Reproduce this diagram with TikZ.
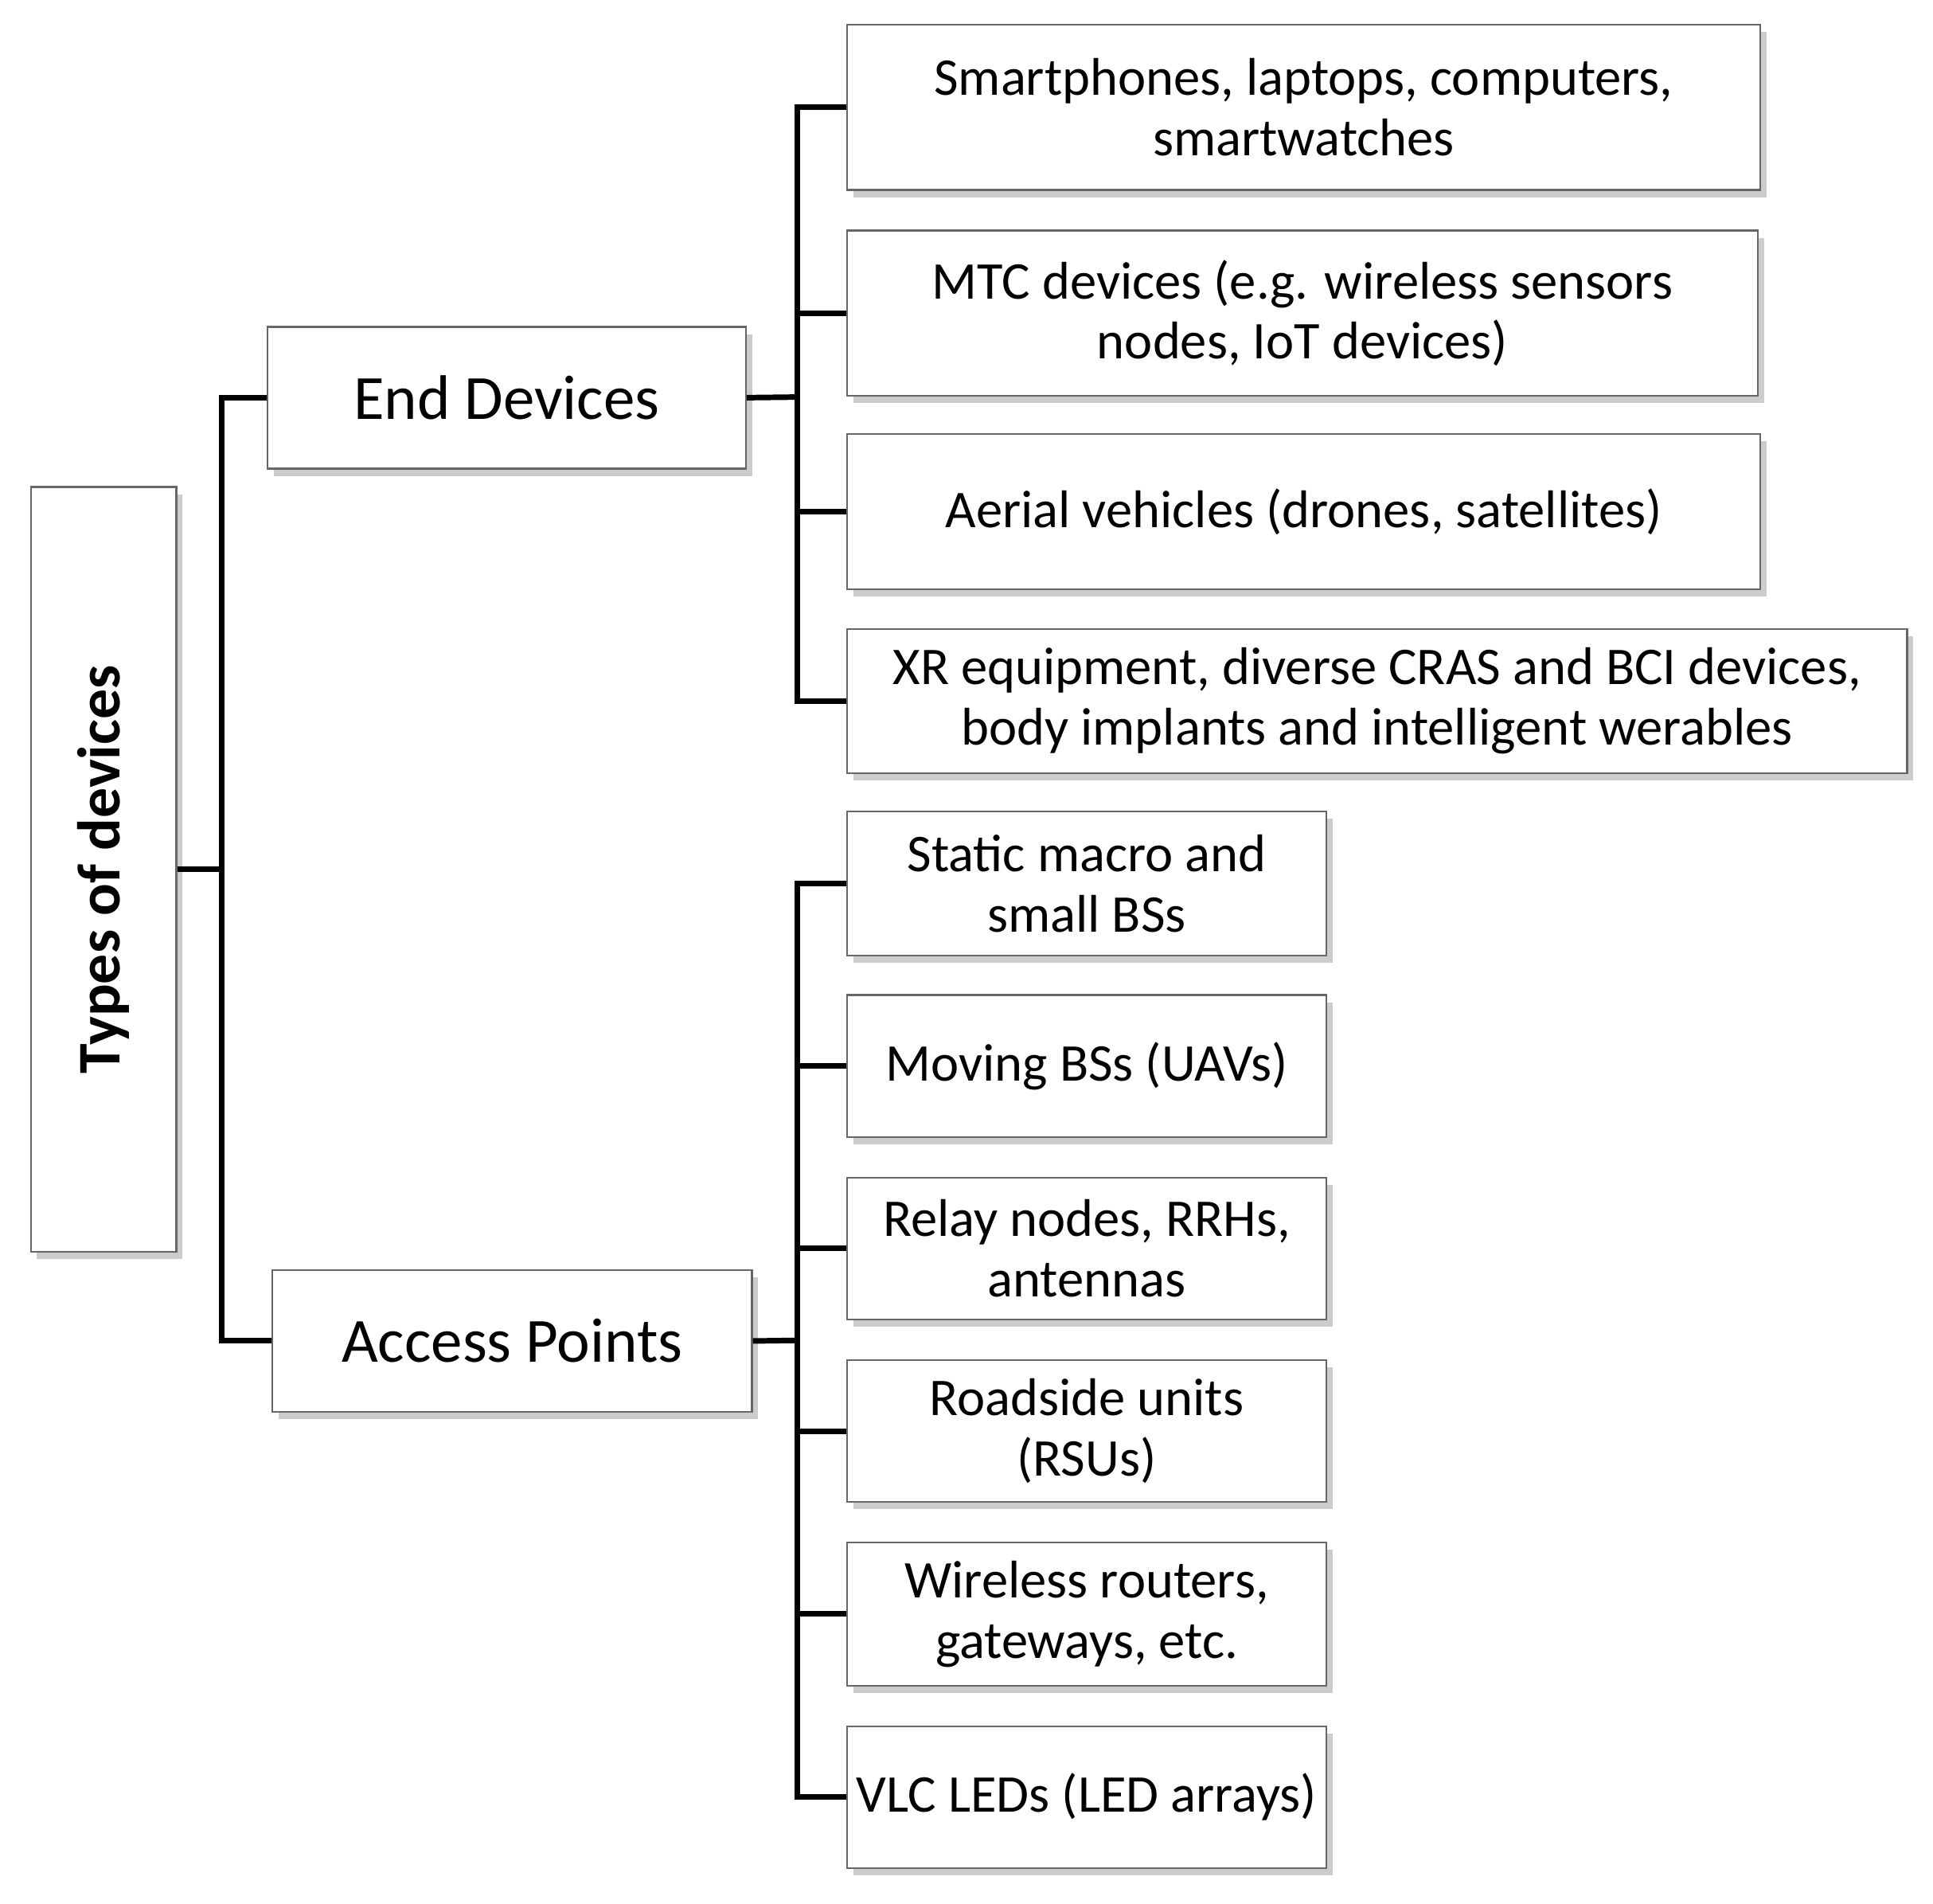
\documentclass[tikz,border=0pt]{standalone}
\usepackage{fontspec}
\setmainfont{Carlito}
\usetikzlibrary{shadows}
\begin{document}
\begin{tikzpicture}[x=1pt,y=-1pt,
 box/.style={draw=black!60,line width=1.5pt,fill=white,align=center,inner sep=0pt,font=\fontsize{43}{49}\selectfont,
   drop shadow={shadow xshift=5pt,shadow yshift=-6pt,fill=black!25,opacity=0.8}},
 con/.style={line width=4.5pt}]
\useasboundingbox (0,0) rectangle (1568,1544);
\newcommand\bx[6]{\node[box,minimum width=#4-#2,minimum height=#5-#3] (#1) at ({(#2+#4)/2},{(#3+#5)/2}) {#6};}
\node[box,minimum width=118,minimum height=620] (t) at (84,705) {};
\node[rotate=90,font=\bfseries\fontsize{49}{52}\selectfont] (tt) at (t.center) {Types of devices};
\bx{e}{217}{265}{605}{380}{\fontsize{51}{55}\selectfont End Devices}
\bx{a}{221}{1030}{610}{1145}{\fontsize{51}{55}\selectfont Access Points}
\bx{r1}{687}{20}{1428}{154}{Smartphones, laptops, computers,\\smartwatches}
\bx{r2}{687}{187}{1426}{321}{MTC devices (e.g. wireless sensors\\nodes, IoT devices)}
\bx{r3}{687}{352}{1428}{478}{Aerial vehicles (drones, satellites)}
\bx{r4}{687}{510}{1547}{627}{XR equipment, diverse CRAS and BCI devices,\\body implants and intelligent werables}
\bx{s1}{687}{658}{1076}{775}{Static macro and\\small BSs}
\bx{s2}{687}{807}{1076}{922}{Moving BSs (UAVs)}
\bx{s3}{687}{955}{1076}{1070}{Relay nodes, RRHs,\\antennas}
\bx{s4}{687}{1103}{1076}{1218}{Roadside units\\(RSUs)}
\bx{s5}{687}{1251}{1076}{1367}{Wireless routers,\\gateways, etc.}
\bx{s6}{687}{1400}{1076}{1515}{VLC LEDs (LED arrays)}
\draw[con] (t.east) -- (180,705);
\draw[con] (e.west) -| (180,705) |- (a.west);
\draw[con] (e.east) -- (647,322);
\foreach \n in {r1,r2,r3,r4} \draw[con] (647,322) |- (\n.west);
\draw[con] (a.east) -- (647,1087);
\foreach \n in {s1,s2,s3,s4,s5,s6} \draw[con] (647,1087) |- (\n.west);
\end{tikzpicture}
\end{document}
